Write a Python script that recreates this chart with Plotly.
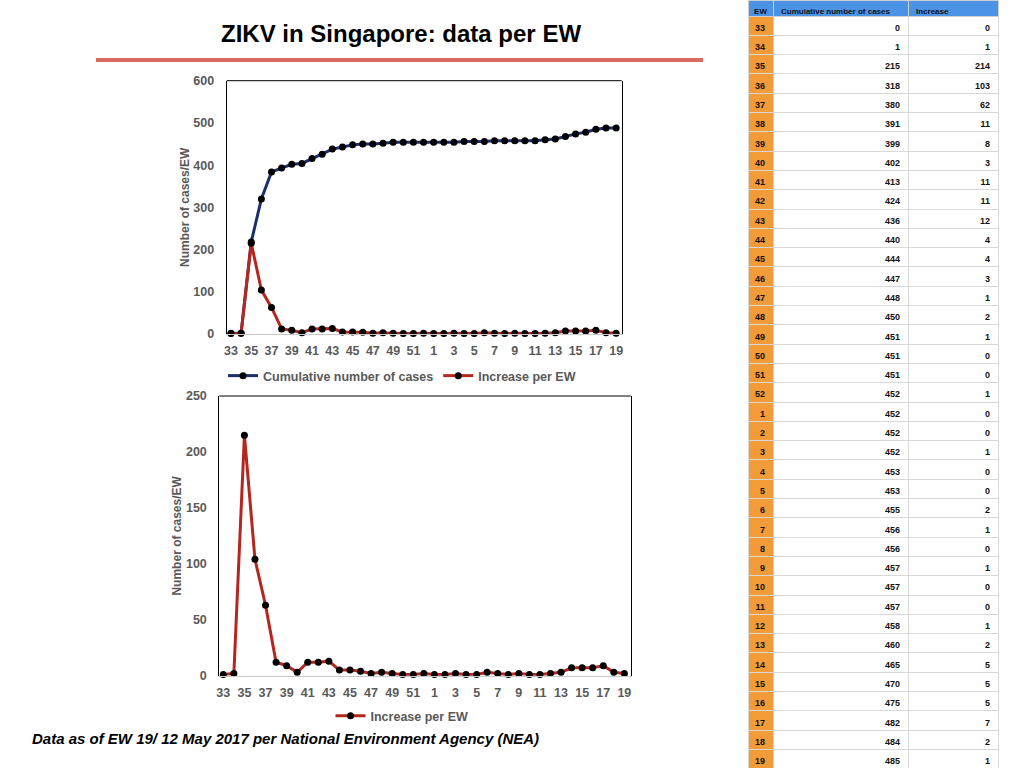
import plotly.graph_objects as go

# ---- data ----
weeks = ["33", "34", "35", "36", "37", "38", "39", "40", "41", "42", "43", "44", "45", "46",
         "47", "48", "49", "50", "51", "52", "1", "2", "3", "4", "5", "6", "7", "8", "9",
         "10", "11", "12", "13", "14", "15", "16", "17", "18", "19"]
cumulative = [0, 1, 215, 318, 380, 391, 399, 402, 413, 424, 436, 440, 444, 447, 448, 450,
              451, 451, 451, 452, 452, 452, 452, 453, 453, 455, 456, 456, 457, 457, 457,
              458, 460, 465, 470, 475, 482, 484, 485]
increase = [0, 1, 214, 103, 62, 11, 8, 3, 11, 11, 12, 4, 4, 3, 1, 2, 1, 0, 0, 1, 0, 0, 1,
            0, 0, 2, 1, 0, 1, 0, 0, 1, 2, 5, 5, 5, 7, 2, 1]
# values as plotted in the charts
chart_cumulative = [2, 2, 218, 320, 384, 393, 402, 404, 416, 426, 438, 443, 448, 450, 450,
                    452, 454, 454, 454, 454, 454, 454, 454, 456, 456, 456, 458, 458, 458,
                    458, 458, 460, 462, 468, 474, 478, 485, 488, 488]
chart_increase = [1, 2, 215, 104, 63, 12, 9, 3, 12, 12, 13, 5, 5, 4, 2, 3, 2, 1, 1, 2, 1, 1,
                  2, 1, 1, 3, 2, 1, 2, 1, 1, 2, 3, 7, 7, 7, 9, 3, 2]
table_headers = ["EW", "Cumulative number of cases", "Increase"]
title_text = "ZIKV in Singapore: data per EW"
footnote_text = "Data as of EW 19/ 12 May 2017 per National Environment Agency (NEA)"

W, H = 1024, 768
FONT = "Arial, Liberation Sans, Helvetica, sans-serif"
GRAY = "#595959"
NAVY = "#1b2f6b"
RED = "#b5261e"

idx = list(range(len(weeks)))
tickvals = idx[::2]
ticktext = weeks[::2]


def px_x(v):
    return v / W


def px_y(v):
    return 1 - v / H


fig = go.Figure()

# top chart
fig.add_trace(go.Scatter(
    x=idx, y=chart_cumulative, mode="lines+markers", name="Cumulative number of cases",
    line=dict(color=NAVY, width=3), marker=dict(color="black", size=7),
    xaxis="x", yaxis="y", legend="legend", cliponaxis=False))
fig.add_trace(go.Scatter(
    x=idx, y=chart_increase, mode="lines+markers", name="Increase per EW",
    line=dict(color=RED, width=3), marker=dict(color="black", size=7),
    xaxis="x", yaxis="y", legend="legend", cliponaxis=False))
# bottom chart
fig.add_trace(go.Scatter(
    x=idx, y=chart_increase, mode="lines+markers", name="Increase per EW",
    line=dict(color=RED, width=3), marker=dict(color="black", size=7),
    xaxis="x2", yaxis="y2", legend="legend2", cliponaxis=False))

# table
n = len(weeks)
fig.add_trace(go.Table(
    domain=dict(x=[px_x(748), px_x(998)], y=[0, 1]),
    columnwidth=[25, 135, 90],
    header=dict(values=table_headers,
                fill_color="#4b93e6", align=["center", "left", "left"],
                font=dict(family=FONT, size=8, color="#111111", weight="bold"),
                line=dict(color="#d0d0d0", width=1), height=16),
    cells=dict(values=[weeks, cumulative, increase],
               fill_color=[["#f29b38"] * n, ["white"] * n, ["white"] * n],
               align="right",
               font=dict(family=FONT, size=9, color="#111111", weight="bold"),
               line=dict(color="#d8d8d8", width=1), height=19.3),
))

tickfont = dict(family=FONT, size=12.5, color=GRAY, weight="bold")
xaxis_common = dict(tickfont=tickfont, showgrid=False, zeroline=False, automargin=False,
                    ticks="outside", ticklen=5, tickcolor="rgba(0,0,0,0)",
                    tickmode="array", tickvals=tickvals, ticktext=ticktext,
                    showline=True, linecolor="#c8c8c8", linewidth=1)
yaxis_common = dict(tickfont=tickfont, showgrid=False, zeroline=False, automargin=False,
                    ticks="outside", ticklen=9, tickcolor="rgba(0,0,0,0)",
                    showline=True, linecolor="black", linewidth=1, mirror=True)
ytitle = dict(text="<b>Number of cases/EW</b>", standoff=1,
              font=dict(family=FONT, size=12, color=GRAY))

fig.update_layout(
    width=W, height=H, margin=dict(l=0, r=0, t=0, b=0, autoexpand=False),
    paper_bgcolor="white", plot_bgcolor="white",
    font=dict(family=FONT),
    xaxis=dict(domain=[px_x(226.7), px_x(621.7)], range=[-0.42, 38.55], anchor="y",
               **xaxis_common),
    yaxis=dict(domain=[px_y(334), px_y(80.7)], range=[0, 600], dtick=100, anchor="x",
               title=ytitle, **yaxis_common),
    xaxis2=dict(domain=[px_x(219.3), px_x(630.7)], range=[-0.38, 38.6], anchor="y2",
                **xaxis_common),
    yaxis2=dict(domain=[px_y(675.7), px_y(396)], range=[0, 250], dtick=50, anchor="x2",
                title=ytitle, **yaxis_common),
    legend=dict(orientation="h", x=px_x(402), xanchor="center", y=px_y(376), yanchor="middle",
                font=dict(family=FONT, size=12.5, color=GRAY, weight="bold"),
                bgcolor="rgba(0,0,0,0)", itemwidth=30),
    legend2=dict(orientation="h", x=px_x(402), xanchor="center", y=px_y(716), yanchor="middle",
                 font=dict(family=FONT, size=12.5, color=GRAY, weight="bold"),
                 bgcolor="rgba(0,0,0,0)", itemwidth=30),
    showlegend=True,
)

# top frame lines (the axes mirror only left/right)
for xd, yd in (("x domain", "y domain"), ("x2 domain", "y2 domain")):
    fig.add_shape(type="line", xref=xd, yref=yd, x0=0, x1=1, y0=1, y1=1,
                  line=dict(color="black", width=1))

# title and red rule
fig.add_annotation(text=f"<b>{title_text}</b>", xref="paper", yref="paper",
                   x=px_x(401), y=px_y(33), xanchor="center", yanchor="middle",
                   showarrow=False, font=dict(family=FONT, size=24, color="black"))
fig.add_shape(type="line", xref="paper", yref="paper", x0=px_x(96), x1=px_x(703),
              y0=px_y(60), y1=px_y(60), line=dict(color="#dc6a5f", width=4))
fig.add_annotation(text=f"<b><i>{footnote_text}</i></b>", xref="paper", yref="paper",
                   x=px_x(30), y=px_y(738), xanchor="left", yanchor="middle",
                   showarrow=False, font=dict(family=FONT, size=15, color="black"))

fig.write_html("out.html", config={"displayModeBar": False},
               post_script="document.body.style.margin='0px';")
